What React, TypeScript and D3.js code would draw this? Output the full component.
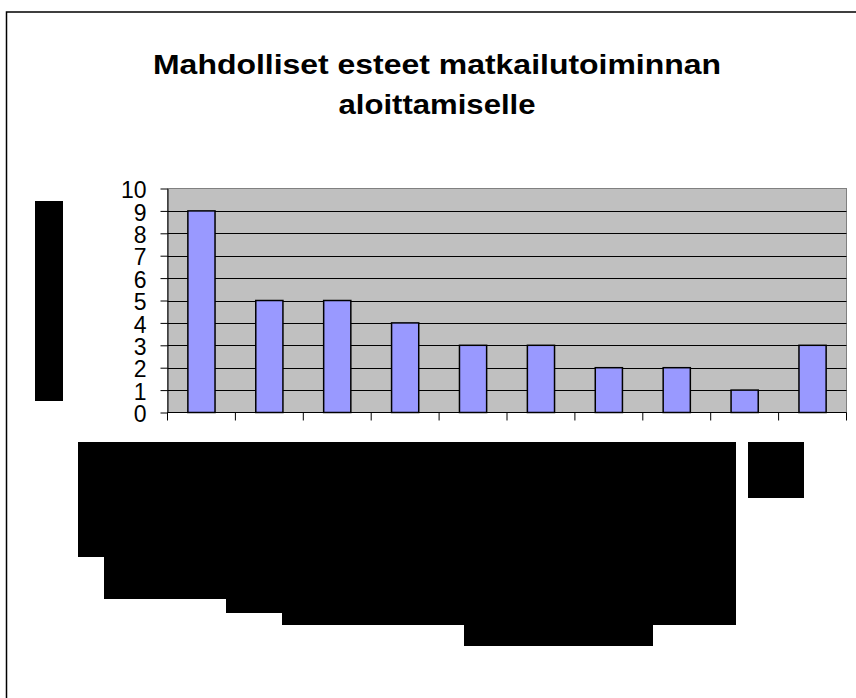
import React, { useEffect, useRef } from 'react';
import * as d3 from 'd3';

// chart data (category names are hidden in the source picture)
const categories = ['Este 1', 'Este 2', 'Este 3', 'Este 4', 'Este 5', 'Este 6', 'Este 7', 'Este 8', 'Este 9', 'Este 10'];
const values = [9, 5, 5, 4, 3, 3, 2, 2, 1, 3];
const yTicks = [0, 1, 2, 3, 4, 5, 6, 7, 8, 9, 10];
const titleLines = ['Mahdolliset esteet matkailutoiminnan', 'aloittamiselle'];

// blacked-out label areas in the original picture
const redactions = [
  [35, 201, 28, 200],
  [78, 442, 658, 115],
  [104, 442, 632, 157],
  [226, 442, 510, 171],
  [282, 442, 454, 183],
  [464, 442, 189, 204],
  [748, 442, 56, 56],
];

const App = () => {
  const ref = useRef<SVGSVGElement>(null);

  useEffect(() => {
    const width = 856;
    const height = 698;
    const svg = d3.select(ref.current);
    svg.selectAll('*').remove();
    svg.attr('width', width).attr('height', height);

    const left = 167.5, right = 846.5, top = 188.5, bottom = 412.5;
    const font = 'Arial, "Liberation Sans", Helvetica, sans-serif';

    // outer chart frame
    svg.append('rect')
      .attr('x', 6.5).attr('y', 12).attr('width', 870).attr('height', 700)
      .attr('fill', '#fff').attr('stroke', '#000').attr('stroke-width', 1.5);

    // title
    const titleWidths = [568, 197];
    titleLines.forEach((t, i) => {
      svg.append('text')
        .attr('x', 437).attr('y', 74 + i * 40)
        .attr('text-anchor', 'middle')
        .attr('font-family', font).attr('font-weight', 'bold').attr('font-size', 28)
        .attr('textLength', titleWidths[i]).attr('lengthAdjust', 'spacingAndGlyphs')
        .text(t);
    });

    const x = d3.scaleBand<string>().domain(categories).range([left, right]).padding(0);
    const y = d3.scaleLinear().domain([0, 10]).range([bottom, top]);

    // plot background
    svg.append('rect')
      .attr('x', left).attr('y', top).attr('width', right - left).attr('height', bottom - top)
      .attr('fill', '#c0c0c0').attr('stroke', '#808080').attr('stroke-width', 1);

    // gridlines
    svg.append('g').selectAll('line')
      .data(yTicks.filter(d => d > 0 && d < 10))
      .enter().append('line')
      .attr('x1', left).attr('x2', right)
      .attr('y1', d => Math.round(y(d)) + 0.5).attr('y2', d => Math.round(y(d)) + 0.5)
      .attr('stroke', '#000').attr('stroke-width', 1);

    // bars
    const bw = x.bandwidth() * 0.4;
    svg.append('g').selectAll('rect')
      .data(values)
      .enter().append('rect')
      .attr('x', (d, i) => (x(categories[i]) as number) + (x.bandwidth() - bw) / 2)
      .attr('y', d => y(d))
      .attr('width', bw)
      .attr('height', d => bottom - y(d))
      .attr('fill', '#9999ff').attr('stroke', '#000').attr('stroke-width', 1.5);

    // y axis
    const yAxis = svg.append('g')
      .attr('transform', `translate(${left},0)`)
      .call(d3.axisLeft(y).tickValues(yTicks).tickSize(7).tickSizeOuter(0).tickPadding(14));
    yAxis.select('.domain').attr('stroke', '#000');
    yAxis.selectAll('line').attr('stroke', '#000');
    yAxis.selectAll('text')
      .attr('font-family', font).attr('font-size', 23).attr('fill', '#000').attr('dy', '0.4em');

    // x axis
    svg.append('line')
      .attr('x1', left).attr('x2', right).attr('y1', bottom).attr('y2', bottom)
      .attr('stroke', '#000').attr('stroke-width', 1);
    const edges = categories.map(c => x(c) as number).concat([right]);
    svg.append('g').selectAll('line')
      .data(edges)
      .enter().append('line')
      .attr('x1', d => d).attr('x2', d => d)
      .attr('y1', bottom).attr('y2', bottom + 8)
      .attr('stroke', '#000').attr('stroke-width', 1);

    // blacked-out labels
    svg.append('g').selectAll('rect')
      .data(redactions)
      .enter().append('rect')
      .attr('x', d => d[0]).attr('y', d => d[1])
      .attr('width', d => d[2]).attr('height', d => d[3])
      .attr('fill', '#000');
  }, []);

  return (
    <svg ref={ref} style={{ position: 'absolute', left: 0, top: 0 }} />
  );
};

export default App;
